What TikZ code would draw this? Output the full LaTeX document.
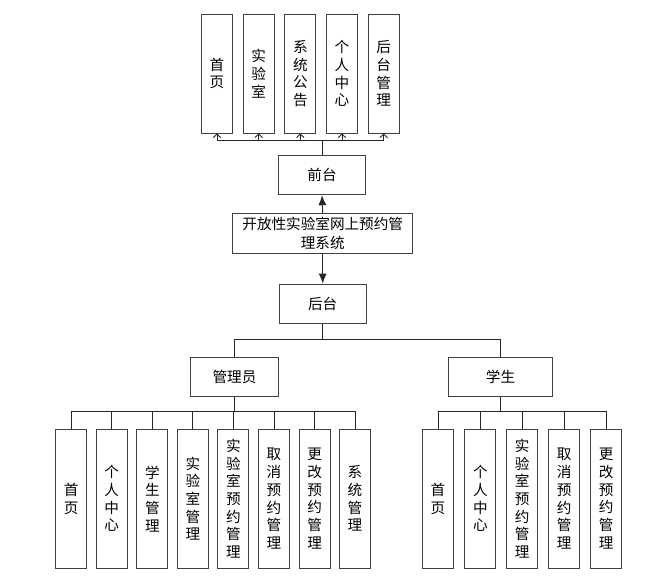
\documentclass[tikz,border=0pt]{standalone}
\usepackage{fontspec}
\newfontfamily\cjk{Noto Sans CJK SC}
\usetikzlibrary{arrows.meta}
\begin{document}
\begin{tikzpicture}[x=1pt,y=-1pt,
    every node/.style={font=\cjk\fontsize{14.6}{17.7}\selectfont},
    box/.style={draw=black!75,line width=0.9pt,inner sep=0pt,align=center},
    tall/.style={box,minimum width=31pt,minimum height=119pt},
    leaf/.style={box,minimum width=31pt,minimum height=138.7pt},
    wide/.style={box,minimum height=39.5pt},
    link/.style={draw=black!85,line width=0.9pt},
    open/.style={-{Straight Barb[length=3.5pt,width=7.5pt]}},
    solid/.style={-{Latex[length=10pt,width=8pt]}}]
  \useasboundingbox (0,0) rectangle (649,587);
  % front end
  \node[tall] (shouye) at (217,73.5) {首\\页};
  \node[tall] (shiyanshi) at (258.7,73.5) {实\\验\\室};
  \node[tall] (gonggao) at (300.3,73.5) {系\\统\\公\\告};
  \node[tall] (geren) at (342,73.5) {个\\人\\中\\心};
  \node[tall] (houtaigl) at (383.7,73.5) {后\\台\\管\\理};
  \node[wide,minimum width=87.4pt] (qiantai) at (322,175) {前台};
  \node[wide,minimum width=180pt,minimum height=40pt,
        font=\cjk\fontsize{14.6}{19.5}\selectfont] (xitong) at (322.7,233.3)
        {开放性实验室网上预约管\\理系统};
  \node[wide,minimum width=86.7pt] (houtai) at (322.7,303.8) {后台};
  % back end
  \node[wide,minimum width=87.6pt] (admin) at (234.5,377) {管理员};
  \node[wide,minimum width=104.4pt] (student) at (500.5,377) {学生};
  \node[leaf] (a1) at (71.2,498.7) {首\\页};
  \node[leaf] (a2) at (111.7,498.7) {个\\人\\中\\心};
  \node[leaf] (a3) at (152.3,498.7) {学\\生\\管\\理};
  \node[leaf] (a4) at (192.8,498.7) {实\\验\\室\\管\\理};
  \node[leaf] (a5) at (233.3,498.7) {实\\验\\室\\预\\约\\管\\理};
  \node[leaf] (a6) at (274,498.7) {取\\消\\预\\约\\管\\理};
  \node[leaf] (a7) at (314.7,498.7) {更\\改\\预\\约\\管\\理};
  \node[leaf] (a8) at (355,498.7) {系\\统\\管\\理};
  \node[leaf] (s1) at (438,498.7) {首\\页};
  \node[leaf] (s2) at (480.3,498.7) {个\\人\\中\\心};
  \node[leaf] (s3) at (522.2,498.7) {实\\验\\室\\预\\约\\管\\理};
  \node[leaf] (s4) at (564.2,498.7) {取\\消\\预\\约\\管\\理};
  \node[leaf] (s5) at (606.2,498.7) {更\\改\\预\\约\\管\\理};
  \coordinate (topbus) at (322,140);
  \coordinate (midbus) at (322.7,339);
  \coordinate (adminbus) at (234.5,411.5);
  \coordinate (studentbus) at (500.5,411.5);
  \begin{scope}[link]
    \draw[solid] (xitong.north) -- (qiantai.south);
    \draw[solid] (xitong.south) -- (houtai.north);
    \draw (qiantai.north) -- (topbus);
    \draw[open] (topbus) -| (shouye.south);
    \draw[open] (topbus) -| (shiyanshi.south);
    \draw[open] (topbus) -| (gonggao.south);
    \draw[open] (topbus) -| (geren.south);
    \draw[open] (topbus) -| (houtaigl.south);
    \draw (houtai.south) -- (midbus);
    \draw (midbus) -| (admin.north);
    \draw (midbus) -| (student.north);
    \draw (admin.south) -- (adminbus);
    \draw (adminbus) -| (a1.north);
    \draw (adminbus) -| (a2.north);
    \draw (adminbus) -| (a3.north);
    \draw (adminbus) -| (a4.north);
    \draw (adminbus) -| (a5.north);
    \draw (adminbus) -| (a6.north);
    \draw (adminbus) -| (a7.north);
    \draw (adminbus) -| (a8.north);
    \draw (student.south) -- (studentbus);
    \draw (studentbus) -| (s1.north);
    \draw (studentbus) -| (s2.north);
    \draw (studentbus) -| (s3.north);
    \draw (studentbus) -| (s4.north);
    \draw (studentbus) -| (s5.north);
  \end{scope}
\end{tikzpicture}
\end{document}
